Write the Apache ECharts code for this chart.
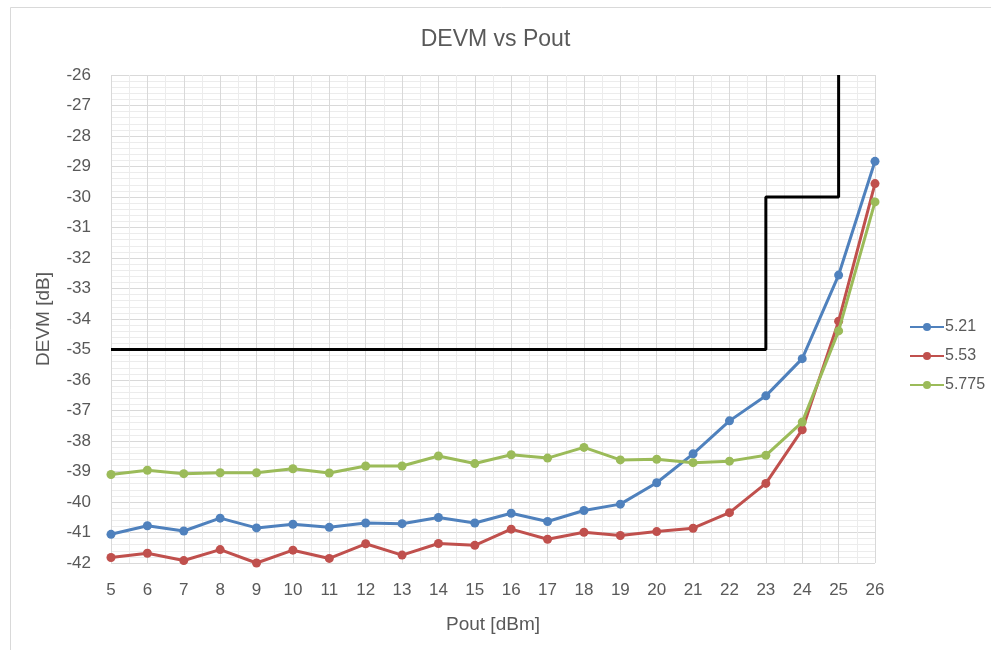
<!DOCTYPE html>
<html>
<head>
<meta charset="utf-8">
<script src="https://cdn.jsdelivr.net/npm/echarts@6/dist/echarts.min.js"></script>
<style>html,body{margin:0;padding:0;background:#fff}#c{width:991px;height:650px}</style>
</head>
<body>
<div id="c"></div>
<script>
var pout = [5,6,7,8,9,10,11,12,13,14,15,16,17,18,19,20,21,22,23,24,25,26];
var s521 = [-41.06,-40.78,-40.95,-40.53,-40.85,-40.73,-40.83,-40.69,-40.71,-40.51,-40.69,-40.37,-40.64,-40.28,-40.07,-39.37,-38.42,-37.34,-36.52,-35.3,-32.56,-28.83];
var s553 = [-41.82,-41.68,-41.92,-41.56,-42.0,-41.58,-41.85,-41.37,-41.74,-41.36,-41.42,-40.89,-41.22,-40.99,-41.10,-40.97,-40.86,-40.35,-39.39,-37.63,-34.07,-29.56];
var s5775 = [-39.10,-38.96,-39.07,-39.04,-39.04,-38.91,-39.05,-38.82,-38.82,-38.49,-38.74,-38.45,-38.56,-38.21,-38.62,-38.60,-38.71,-38.66,-38.47,-37.38,-34.39,-30.16];
var limitX = [5,23,23,25,25];
var limitY = [-35,-35,-30,-30,-26];
var seriesNames = ['5.21','5.53','5.775'];
var colors = ['#4F81BD','#C0504D','#9BBB59'];

function pairs(xs, ys){ return xs.map(function(x,i){ return [x, ys[i]]; }); }

var font = 'Liberation Sans, Arial, sans-serif';
var chart = echarts.init(document.getElementById('c'));
var dataSets = [s521, s553, s5775];
var series = dataSets.map(function(d, i){
  return {
    name: seriesNames[i], type: 'line', data: pairs(pout, d),
    symbol: 'circle', symbolSize: 9,
    lineStyle: {width: 3, color: colors[i]},
    itemStyle: {color: colors[i]},
    z: 3 + i
  };
});
series.unshift({
  name: 'limit', type: 'line', data: pairs(limitX, limitY),
  symbol: 'none', lineStyle: {width: 3, color: '#000'}, itemStyle:{color:'#000'}, z: 2
});
chart.setOption({
  animation: false,
  backgroundColor: '#fff',
  graphic: [{type:'rect', shape:{x:10.5,y:7.5,width:990,height:650}, style:{fill:'none', stroke:'#d9d9d9', lineWidth:1}, z:-10}],
  title: {text: 'DEVM vs Pout', left: 'center', top: 23, textStyle: {fontFamily: font, fontSize: 23, fontWeight: 'normal', color: '#595959'}},
  legend: {
    orient: 'vertical', left: 904, top: 314, itemGap: 13, itemWidth: 34, itemHeight: 10,
    data: seriesNames,
    textStyle: {fontFamily: font, fontSize: 16, color: '#595959', padding:[0,0,0,-4]}
  },
  grid: {left: 111, right: 116, top: 75, bottom: 87},
  xAxis: {
    type: 'value', min: 5, max: 26, interval: 1,
    name: 'Pout [dBm]', nameLocation: 'middle', nameGap: 52,
    nameTextStyle: {fontFamily: font, fontSize: 19, color: '#595959'},
    axisLine: {show: false}, axisTick: {show: false},
    axisLabel: {fontFamily: font, fontSize: 17, color: '#595959', margin: 19},
    splitLine: {show: true, lineStyle: {color: '#d9d9d9', width: 1}},
    minorTick: {show: false, splitNumber: 2},
    minorSplitLine: {show: true, lineStyle: {color: '#ececec', width: 1}}
  },
  yAxis: {
    type: 'value', min: -42, max: -26, interval: 1,
    name: 'DEVM [dB]', nameLocation: 'middle', nameGap: 58, nameRotate: 90,
    nameTextStyle: {fontFamily: font, fontSize: 19, color: '#595959'},
    axisLine: {show: false}, axisTick: {show: false},
    axisLabel: {fontFamily: font, fontSize: 17, color: '#595959', margin: 20},
    splitLine: {show: true, lineStyle: {color: '#d9d9d9', width: 1}},
    minorTick: {show: false, splitNumber: 5},
    minorSplitLine: {show: true, lineStyle: {color: '#ececec', width: 1}}
  },
  series: series
});
</script>
</body>
</html>
